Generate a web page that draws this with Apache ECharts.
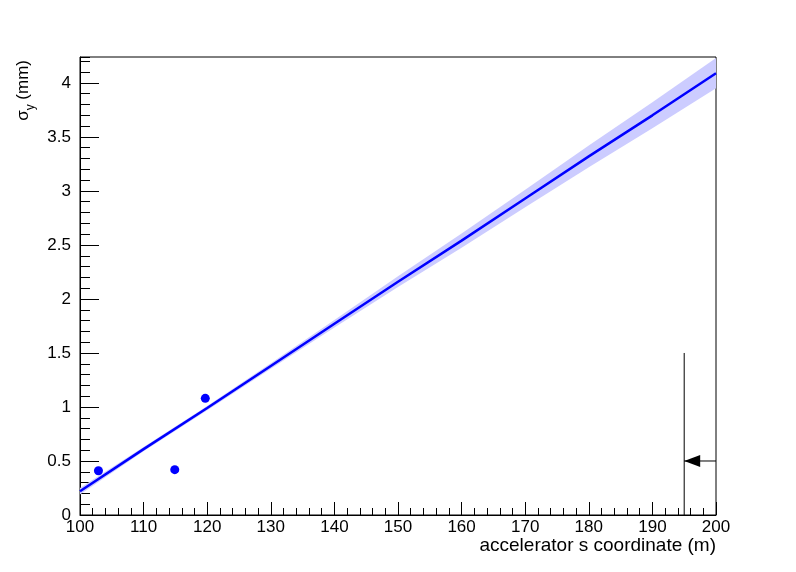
<!DOCTYPE html>
<html><head><meta charset="utf-8">
<script src="https://cdn.jsdelivr.net/npm/echarts@6/dist/echarts.min.js"></script>
<style>html,body{margin:0;padding:0;background:#fff}#c{width:796px;height:572px}</style>
</head><body><div id="c"></div>
<script>
// Fit line (s in m, sigma_y in mm)
const fitS = [100, 110, 120, 130, 140, 150, 160, 170, 180, 190, 200];
const fitY = [0.22, 0.61, 0.99, 1.38, 1.77, 2.16, 2.54, 2.93, 3.32, 3.70, 4.09];
// Half-width of the uncertainty band
const bandHalf = [0.03, 0.02, 0.02, 0.025, 0.035, 0.05, 0.065, 0.08, 0.10, 0.12, 0.14];
// Measured points
const pointS = [102.9, 114.9, 119.7];
const pointY = [0.41, 0.42, 1.08];
// Marker (vertical line with arrow)
const markS = 195, markTop = 1.5, arrowLevel = 0.5, arrowFrom = 200;
// Axis ranges
const xMin = 100, xMax = 200, xStep = 10;
const yMin = 0, yMax = 4.24, yStep = 0.5, yMinorStep = 0.1;

const font = 'Liberation Sans, Arial, Helvetica, sans-serif';
const chart = echarts.init(document.getElementById('c'));
chart.setOption({
  animation: false,
  backgroundColor: '#fff',
  grid: {left: 80, right: 80, top: 57, bottom: 57, show: true, borderColor: '#000', borderWidth: 1, backgroundColor: 'transparent'},
  xAxis: {
    type: 'value', min: xMin, max: xMax, interval: xStep,
    axisLine: {show: true, lineStyle: {color: '#000', width: 1}},
    axisTick: {show: true, inside: true, length: 13, lineStyle: {color: '#000'}},
    minorTick: {show: true, splitNumber: 5, length: 7, lineStyle: {color: '#000'}},
    splitLine: {show: false},
    axisLabel: {fontSize: 17, color: '#000', fontFamily: font, margin: 4}
  },
  yAxis: [{
    type: 'value', min: yMin, max: yMax, interval: yStep,
    axisLine: {show: true, lineStyle: {color: '#000', width: 1}},
    axisTick: {show: true, inside: true, length: 19, lineStyle: {color: '#000'}},
    splitLine: {show: false},
    axisLabel: {fontSize: 17, color: '#000', fontFamily: font, margin: 9, showMaxLabel: false}
  }, {
    type: 'value', min: yMin, max: yMax, interval: yMinorStep, position: 'left',
    axisLine: {show: false},
    axisTick: {show: true, inside: true, length: 10, lineStyle: {color: '#000'}},
    splitLine: {show: false},
    axisLabel: {show: false}
  }],
  graphic: [
    {type: 'text', x: 716, y: 546, style: {text: 'accelerator s coordinate (m)', align: 'right', verticalAlign: 'middle', fontSize: 19, fontFamily: font, fill: '#000'}},
    {type: 'text', x: 26, y: 60, rotation: Math.PI / 2, style: {
      text: '{s|σ}{sub|y}{s| (mm)}', align: 'right', verticalAlign: 'middle', fontFamily: font, fill: '#000',
      rich: {
        s: {fontSize: 17, lineHeight: 22, verticalAlign: 'top', fontFamily: font, fill: '#000'},
        sub: {fontSize: 12, lineHeight: 10, verticalAlign: 'bottom', fontFamily: font, fill: '#000'}
      }
    }}
  ],
  series: [
    {
      type: 'custom', yAxisIndex: 0, silent: true, clip: true, z: 1,
      data: fitS.map((s, i) => [s, fitY[i]]),
      encode: {x: 0, y: 1},
      renderItem: function (params, api) {
        if (params.dataIndex !== 0) return null;
        const pts = [];
        for (let i = 0; i < fitS.length; i++) pts.push(api.coord([fitS[i], fitY[i] + bandHalf[i]]));
        for (let i = fitS.length - 1; i >= 0; i--) pts.push(api.coord([fitS[i], fitY[i] - bandHalf[i]]));
        return {type: 'polygon', shape: {points: pts}, style: {fill: '#ccccff'}};
      }
    },
    {
      type: 'line', yAxisIndex: 0, symbol: 'none', silent: true, z: 3,
      data: fitS.map((s, i) => [s, fitY[i]]),
      lineStyle: {color: '#0000ff', width: 2.5}
    },
    {
      type: 'scatter', yAxisIndex: 0, silent: true, z: 4,
      data: pointS.map((s, i) => [s, pointY[i]]),
      symbol: 'circle', symbolSize: 9, itemStyle: {color: '#0000ff', opacity: 1}
    },
    {
      type: 'line', yAxisIndex: 0, symbol: 'none', silent: true, z: 4,
      data: [[markS, yMin], [markS, markTop]],
      lineStyle: {color: '#000', width: 1}
    },
    {
      type: 'line', yAxisIndex: 0, symbol: 'none', silent: true, z: 4,
      data: [[markS, arrowLevel], [arrowFrom, arrowLevel]],
      lineStyle: {color: '#000', width: 1}
    },
    {
      type: 'scatter', yAxisIndex: 0, silent: true, z: 5,
      data: [[markS, arrowLevel]],
      symbol: 'triangle', symbolRotate: 90, symbolSize: [12, 16], symbolOffset: [8, 0],
      itemStyle: {color: '#000', opacity: 1}
    }
  ]
});
</script>
</body></html>
